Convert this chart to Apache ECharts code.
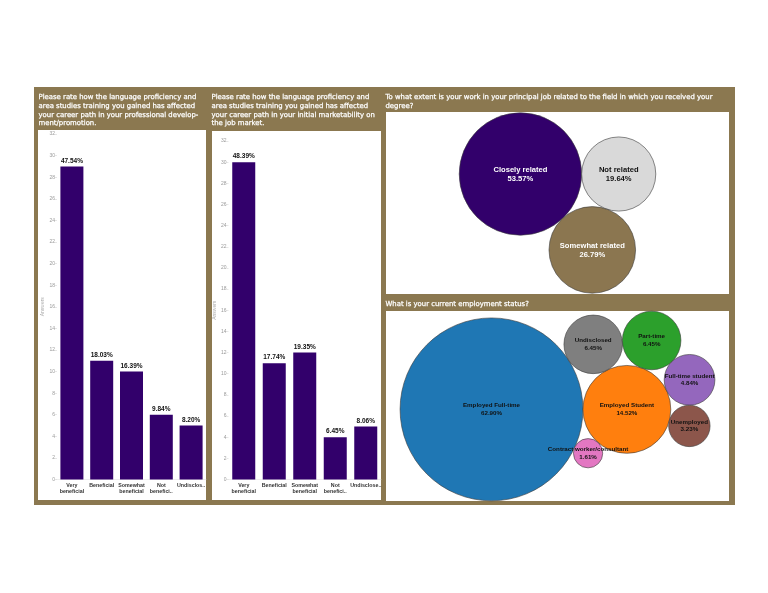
<!DOCTYPE html>
<html>
<head>
<meta charset="utf-8">
<script src="https://cdn.jsdelivr.net/npm/echarts@6/dist/echarts.min.js"></script>
<style>
html, body { margin: 0; padding: 0; background: #fff; }
#main { width: 768px; height: 593px; }
</style>
</head>
<body>
<div id="main"></div>
<script>
// bar charts: answers per rating
var ratingCategories = ['Very beneficial', 'Beneficial', 'Somewhat beneficial', 'Not beneficial', 'Undisclosed'];
var promotionTicks = ['Very\nbeneficial', 'Beneficial', 'Somewhat\nbeneficial', 'Not\nbenefici..', 'Undisclos..'];
var marketTicks = ['Very\nbeneficial', 'Beneficial', 'Somewhat\nbeneficial', 'Not\nbenefici..', 'Undisclose..'];
var promotionCounts = [29, 11, 10, 6, 5];
var marketCounts = [30, 11, 12, 4, 5];
var answersMax = 32;
var answersStep = 2;

// bubble charts: share of respondents
var relatedNames = ['Closely related', 'Not related', 'Somewhat related'];
var relatedPct = [53.57, 19.64, 26.79];
var employNames = ['Employed Full-time', 'Employed Student', 'Undisclosed', 'Part-time',
    'Full-time student', 'Unemployed', 'Contract worker/consultant'];
var employPct = [62.90, 14.52, 6.45, 6.45, 4.84, 3.23, 1.61];

var titles = [
    'Please rate how the language proficiency and\narea studies training you gained has affected\nyour career path in your professional develop-\nment/promotion.',
    'Please rate how the language proficiency and\narea studies training you gained has affected\nyour career path in your initial marketability on\nthe job market.',
    'To what extent is your work in your principal job related to the field in which you received your\ndegree?',
    'What is your current employment status?'
];

// packing: each bubble rests on one or two earlier bubbles ([a], or [a, b, side])
var relatedPacking = [[], [0], [0, 1, 1]];
var employPacking = [[], [0], [0, 1, -1], [2, 1, -1], [3, 1, -1], [4, 1, -1], [0, 1, 1]];

var BROWN = '#8b7850';
var PURPLE = '#32006b';
var relatedColors = [PURPLE, '#d9d9d9', '#8b7650'];
var relatedLabelColors = ['#fff', '#111', '#fff'];
var employColors = ['#1f77b4', '#ff7f0e', '#7f7f7f', '#2ca02c', '#9467bd', '#8c564b', '#e377c2'];

function packBubbles(values, links, w, h, pad) {
    var r = values.map(function (v) { return Math.sqrt(v); });
    var p = [[0, 0]];
    for (var i = 1; i < values.length; i++) {
        var l = links[i];
        if (l.length === 1) {
            p.push([p[l[0]][0] + r[l[0]] + r[i], p[l[0]][1]]);
            continue;
        }
        var a = p[l[0]], b = p[l[1]];
        var dx = b[0] - a[0], dy = b[1] - a[1];
        var d = Math.sqrt(dx * dx + dy * dy);
        var da = r[l[0]] + r[i], db = r[l[1]] + r[i];
        var along = (da * da - db * db + d * d) / (2 * d);
        var off = Math.sqrt(Math.max(0, da * da - along * along));
        p.push([a[0] + along * dx / d - l[2] * off * dy / d,
                a[1] + along * dy / d + l[2] * off * dx / d]);
    }
    var minX = Infinity, maxX = -Infinity, minY = Infinity, maxY = -Infinity;
    p.forEach(function (q, i) {
        minX = Math.min(minX, q[0] - r[i]); maxX = Math.max(maxX, q[0] + r[i]);
        minY = Math.min(minY, q[1] - r[i]); maxY = Math.max(maxY, q[1] + r[i]);
    });
    var s = Math.min((w - 2 * pad) / (maxX - minX), (h - 2 * pad) / (maxY - minY));
    var cx = w / 2 - s * (minX + maxX) / 2, cy = h / 2 - s * (minY + maxY) / 2;
    return p.map(function (q, i) { return [q[0] * s + cx, q[1] * s + cy, 2 * r[i] * s]; });
}

function bubbleData(names, pct, links, colors, labelColors, w, h, pad) {
    var packed = packBubbles(pct, links, w, h, pad);
    return names.map(function (n, i) {
        return {
            name: n,
            value: [packed[i][0], packed[i][1], pct[i]],
            symbolSize: packed[i][2],
            itemStyle: { color: colors[i] },
            label: { color: labelColors ? labelColors[i] : '#111' }
        };
    });
}

function pctLabels(counts) {
    var total = counts.reduce(function (s, v) { return s + v; }, 0);
    return function (p) { return (counts[p.dataIndex] / total * 100).toFixed(2) + '%'; };
}

var panels = [
    { x: 38, y: 130, w: 168, h: 370 },
    { x: 212, y: 131, w: 169, h: 369 },
    { x: 386, y: 112, w: 343, h: 182 },
    { x: 386, y: 311, w: 343, h: 190 }
];
var titlePos = [[38.5, 93], [211.5, 93], [385.5, 93], [385.5, 299.5]];

var graphics = [{ type: 'rect', shape: { x: 34, y: 87, width: 701, height: 418 }, style: { fill: BROWN }, z: -10 }];
panels.forEach(function (p) {
    graphics.push({ type: 'rect', shape: { x: p.x, y: p.y, width: p.w, height: p.h }, style: { fill: '#fff' }, z: -9 });
});
titles.forEach(function (t, i) {
    graphics.push({
        type: 'text', x: titlePos[i][0], y: titlePos[i][1], z: -8,
        style: { text: t, fill: '#ffffff', stroke: '#ffffff', lineWidth: 0.25, fontSize: 6.9,
            fontFamily: 'DejaVu Sans', lineHeight: 8.7, verticalAlign: 'top' }
    });
});

function barAxes(idx, ticks) {
    return {
        x: {
            type: 'category', gridIndex: idx, data: ticks,
            axisTick: { show: false },
            axisLine: { lineStyle: { color: '#ddd', width: 0.5 } },
            axisLabel: { interval: 0, fontSize: 5.3, fontWeight: 'bold', color: '#333', lineHeight: 6.3, margin: 3, fontFamily: 'Liberation Sans' }
        },
        y: {
            type: 'value', gridIndex: idx, min: 0, max: answersMax, interval: answersStep,
            name: 'Answers', nameLocation: 'middle', nameGap: 10,
            nameTextStyle: { fontSize: 5, color: '#aaa', fontFamily: 'Liberation Sans' },
            axisLine: { show: false },
            axisTick: { show: true, length: 2, lineStyle: { color: '#ccc', width: 0.5 } },
            splitLine: { show: false },
            axisLabel: { fontSize: 5, color: '#9a9a9a', margin: 2, fontFamily: 'Liberation Sans' }
        }
    };
}
var ax0 = barAxes(0, promotionTicks), ax1 = barAxes(1, marketTicks);

function barSeries(idx, counts) {
    return {
        type: 'bar', xAxisIndex: idx, yAxisIndex: idx,
        data: counts, barWidth: 23,
        itemStyle: { color: PURPLE },
        label: { show: true, position: 'top', distance: 2, formatter: pctLabels(counts),
            fontSize: 6.5, fontWeight: 'bold', color: '#111', fontFamily: 'Liberation Sans' }
    };
}

function bubbleSeries(idx, data, fontSize, lineHeight) {
    return {
        type: 'scatter', xAxisIndex: idx, yAxisIndex: idx, data: data, clip: false,
        itemStyle: { borderColor: '#3a3a3a', borderWidth: 0.6, opacity: 1 },
        label: {
            show: true, position: 'inside', fontSize: fontSize, lineHeight: lineHeight,
            fontWeight: 'bold', fontFamily: 'Liberation Sans',
            formatter: function (p) { return p.name + '\n' + p.value[2].toFixed(2) + '%'; }
        },
        emphasis: { disabled: true }
    };
}

var chart = echarts.init(document.getElementById('main'), null, { renderer: 'canvas' });
var option = {
    animation: false,
    backgroundColor: '#fff',
    graphic: graphics,
    grid: [
        { left: 57, top: 134, width: 149, height: 345.5 },
        { left: 228.5, top: 141, width: 152.5, height: 338.5 },
        { left: panels[2].x, top: panels[2].y, width: panels[2].w, height: panels[2].h },
        { left: panels[3].x, top: panels[3].y, width: panels[3].w, height: panels[3].h }
    ],
    xAxis: [ax0.x, ax1.x,
        { type: 'value', gridIndex: 2, min: 0, max: panels[2].w, show: false },
        { type: 'value', gridIndex: 3, min: 0, max: panels[3].w, show: false }],
    yAxis: [ax0.y, ax1.y,
        { type: 'value', gridIndex: 2, min: 0, max: panels[2].h, inverse: true, show: false },
        { type: 'value', gridIndex: 3, min: 0, max: panels[3].h, inverse: true, show: false }],
    series: [
        barSeries(0, promotionCounts),
        barSeries(1, marketCounts),
        bubbleSeries(2, bubbleData(relatedNames, relatedPct, relatedPacking, relatedColors, relatedLabelColors,
            panels[2].w, panels[2].h, 0.8), 7.6, 9),
        bubbleSeries(3, bubbleData(employNames, employPct, employPacking, employColors, null,
            panels[3].w, panels[3].h, 0.2), 6.2, 7.7)
    ]
};
chart.setOption(option);
</script>
</body>
</html>
